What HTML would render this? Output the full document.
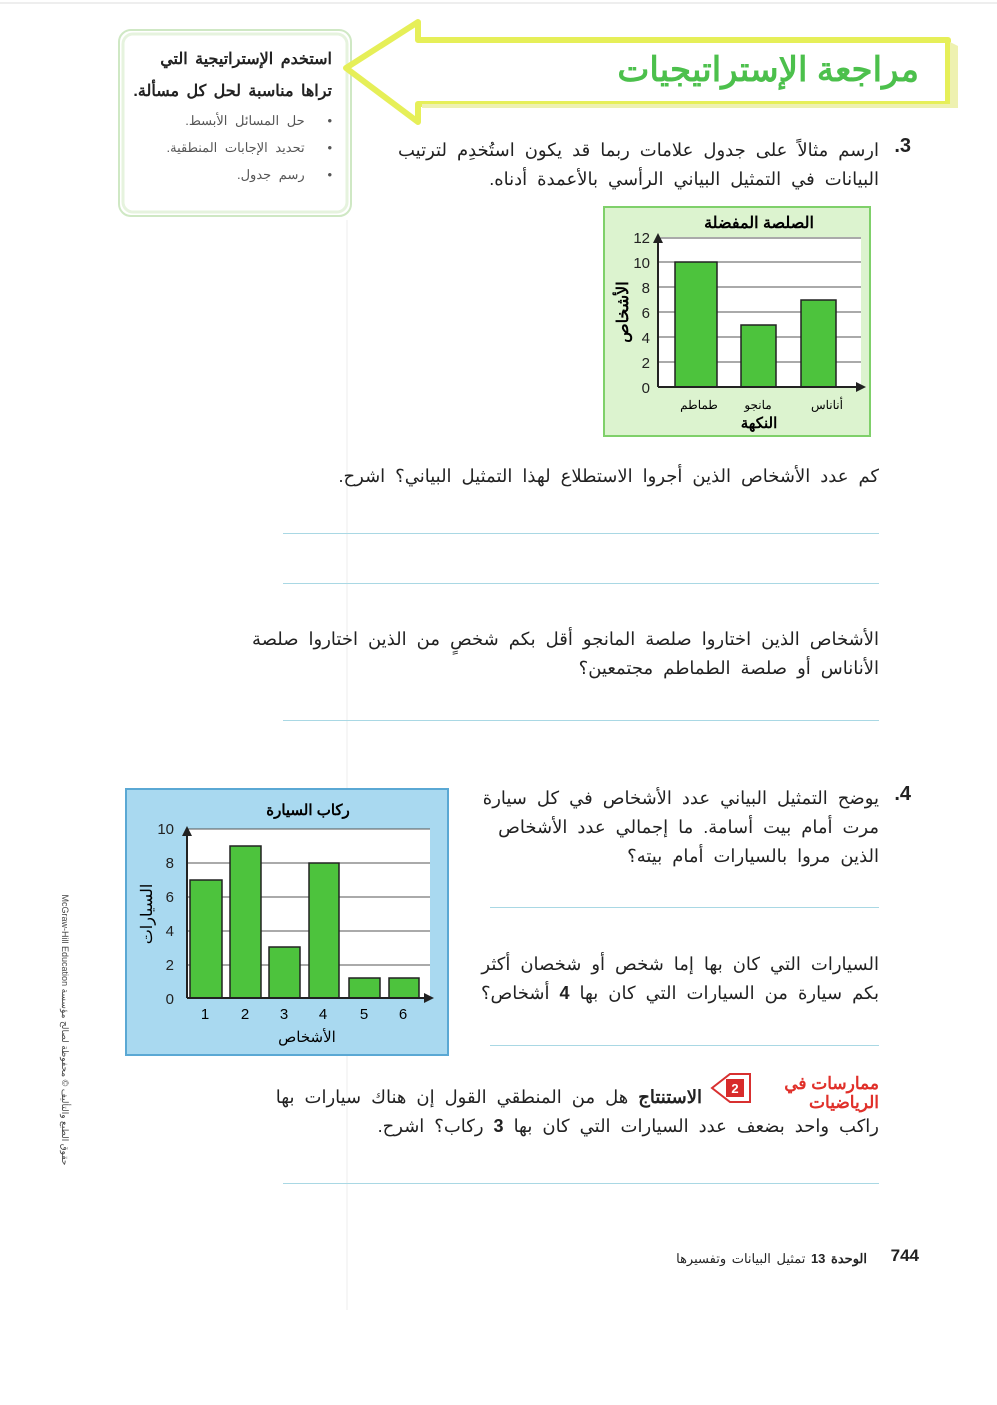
<!DOCTYPE html>
<html><head><meta charset="utf-8"><style>
body{margin:0;width:997px;height:1405px;background:#fff;position:relative;overflow:hidden;font-family:"Liberation Sans","Noto Sans CJK SC",sans-serif;color:#222}
.t{position:absolute;direction:rtl;white-space:nowrap;font-size:18px;line-height:20px;word-spacing:5px}
.ln{position:absolute;height:1px;background:#a9d8e4}
svg{position:absolute;left:0;top:0}
</style></head><body>
<svg width="997" height="1405">
<line x1="0" y1="3" x2="997" y2="3" stroke="#ddd"/>
<line x1="347" y1="220" x2="347" y2="1310" stroke="#eee"/>
<rect x="119" y="30" width="232" height="186" rx="12" fill="#fff" stroke="#cfe8c4" stroke-width="2"/>
<rect x="123" y="34" width="224" height="178" rx="10" fill="none" stroke="#e6f3de" stroke-width="3"/>
<polygon points="346,68 418,22 418,40 948,40 948,104 418,104 418,122" fill="#fff" stroke="#e6ef58" stroke-width="6" stroke-linejoin="round"/>
<polygon points="950,42 958,46 958,108 422,108 422,104 950,104" fill="#eef1b0"/>
<rect x="604" y="207" width="266" height="229" fill="#dcf3cf" stroke="#7fd06a" stroke-width="2"/>
<rect x="658" y="237" width="203" height="150" fill="#fff"/>
<g stroke="#555" stroke-width="1">
<line x1="658" y1="262" x2="861" y2="262"/><line x1="658" y1="287" x2="861" y2="287"/><line x1="658" y1="312" x2="861" y2="312"/><line x1="658" y1="337" x2="861" y2="337"/><line x1="658" y1="362" x2="861" y2="362"/></g>
<line x1="658" y1="238" x2="861" y2="238" stroke="#555"/>
<g fill="#4dc33d" stroke="#222" stroke-width="1.5">
<rect x="675" y="262" width="42" height="125"/><rect x="741" y="325" width="35" height="62"/><rect x="801" y="300" width="35" height="87"/></g>
<line x1="658" y1="387" x2="860" y2="387" stroke="#222" stroke-width="2"/>
<line x1="658" y1="387" x2="658" y2="240" stroke="#222" stroke-width="2"/>
<polygon points="658,233 653,243 663,243" fill="#222"/><polygon points="866,387 856,382 856,392" fill="#222"/>
<g font-size="15" text-anchor="end" fill="#222" font-family="Liberation Sans">
<text x="650" y="243">12</text><text x="650" y="268">10</text><text x="650" y="293">8</text><text x="650" y="318">6</text><text x="650" y="343">4</text><text x="650" y="368">2</text><text x="650" y="393">0</text></g>
<text x="759" y="228" font-size="16" font-weight="bold" text-anchor="middle" direction="rtl">الصلصة المفضلة</text>
<g font-size="12" text-anchor="middle" direction="rtl"><text x="699" y="409">طماطم</text><text x="758" y="409">مانجو</text><text x="827" y="409">أناناس</text></g>
<text x="759" y="428" font-size="15" font-weight="bold" text-anchor="middle" direction="rtl">النكهة</text>
<text transform="translate(628,312) rotate(-90)" font-size="16" font-weight="bold" text-anchor="middle" direction="rtl">الأشخاص</text>
<rect x="126" y="789" width="322" height="266" fill="#a9d9f0" stroke="#5aa8d4" stroke-width="2"/>
<rect x="187" y="829" width="243" height="169" fill="#fff"/>
<g stroke="#555" stroke-width="1">
<line x1="187" y1="829" x2="430" y2="829"/><line x1="187" y1="863" x2="430" y2="863"/><line x1="187" y1="897" x2="430" y2="897"/><line x1="187" y1="931" x2="430" y2="931"/><line x1="187" y1="965" x2="430" y2="965"/></g>
<g fill="#4dc33d" stroke="#222" stroke-width="1.5">
<rect x="190" y="880" width="32" height="118"/><rect x="230" y="846" width="31" height="152"/><rect x="269" y="947" width="31" height="51"/><rect x="309" y="863" width="30" height="135"/><rect x="349" y="978" width="31" height="20"/><rect x="389" y="978" width="30" height="20"/></g>
<line x1="187" y1="998" x2="428" y2="998" stroke="#222" stroke-width="2"/>
<line x1="187" y1="998" x2="187" y2="832" stroke="#222" stroke-width="2"/>
<polygon points="187,826 182,836 192,836" fill="#222"/><polygon points="434,998 424,993 424,1003" fill="#222"/>
<g font-size="15" text-anchor="end" fill="#222"><text x="174" y="834">10</text><text x="174" y="868">8</text><text x="174" y="902">6</text><text x="174" y="936">4</text><text x="174" y="970">2</text><text x="174" y="1004">0</text></g>
<g font-size="15" text-anchor="middle"><text x="205" y="1019">1</text><text x="245" y="1019">2</text><text x="284" y="1019">3</text><text x="323" y="1019">4</text><text x="364" y="1019">5</text><text x="403" y="1019">6</text></g>
<text x="308" y="815" font-size="15" font-weight="bold" text-anchor="middle" direction="rtl">ركاب السيارة</text>
<text x="307" y="1042" font-size="15" text-anchor="middle" direction="rtl">الأشخاص</text>
<text transform="translate(152,914) rotate(-90)" font-size="16" text-anchor="middle" direction="rtl">السيارات</text>
<polygon points="712,1088 730,1074 750,1074 750,1102 730,1102" fill="#fff" stroke="#d83030" stroke-width="2"/>
<rect x="726" y="1079" width="18" height="18" fill="#d82b2b"/>
<text x="735" y="1093" font-size="13" font-weight="bold" fill="#fff" text-anchor="middle">2</text>
<text transform="translate(62,1030) rotate(90)" font-size="9" fill="#444" text-anchor="middle">McGraw-Hill Education حقوق الطبع والتأليف © محفوظة لصالح مؤسسة</text>
</svg>
<div class="t" style="right:665px;top:44px;font-size:16px;font-weight:bold;line-height:32px;text-align:right;word-spacing:3px">استخدم الإستراتيجية التي<br>تراها مناسبة لحل كل مسألة.</div>
<div class="t" style="right:665px;top:107px;font-size:13px;line-height:27px;color:#555;word-spacing:4px">•&nbsp;&nbsp; حل المسائل الأبسط.<br>•&nbsp;&nbsp; تحديد الإجابات المنطقية.<br>•&nbsp;&nbsp; رسم جدول.</div>
<div class="t" style="right:78px;top:48px;font-size:34px;line-height:44px;font-weight:bold;color:#4cc04c;word-spacing:0">مراجعة الإستراتيجيات</div>
<div class="t" style="right:86px;top:136px;font-size:20px;font-weight:bold">3.</div>
<div class="t" style="right:118px;top:136px;line-height:29px">ارسم مثالاً على جدول علامات ربما قد يكون استُخدِم لترتيب<br>البيانات في التمثيل البياني الرأسي بالأعمدة أدناه.</div>
<div class="t" style="right:118px;top:466px">كم عدد الأشخاص الذين أجروا الاستطلاع لهذا التمثيل البياني؟ اشرح.</div>
<div class="ln" style="left:283px;width:596px;top:533px"></div>
<div class="ln" style="left:283px;width:596px;top:583px"></div>
<div class="t" style="right:118px;top:625px;line-height:29px">الأشخاص الذين اختاروا صلصة المانجو أقل بكم شخصٍ من الذين اختاروا صلصة<br>الأناناس أو صلصة الطماطم مجتمعين؟</div>
<div class="ln" style="left:283px;width:596px;top:720px"></div>
<div class="t" style="right:86px;top:784px;font-size:20px;font-weight:bold">4.</div>
<div class="t" style="right:118px;top:784px;line-height:29px">يوضح التمثيل البياني عدد الأشخاص في كل سيارة<br>مرت أمام بيت أسامة. ما إجمالي عدد الأشخاص<br>الذين مروا بالسيارات أمام بيته؟</div>
<div class="ln" style="left:490px;width:389px;top:907px"></div>
<div class="t" style="right:118px;top:950px;line-height:29px">السيارات التي كان بها إما شخص أو شخصان أكثر<br>بكم سيارة من السيارات التي كان بها <b>4</b> أشخاص؟</div>
<div class="ln" style="left:490px;width:389px;top:1045px"></div>
<div class="t" style="right:118px;top:1074px;font-size:17px;font-weight:bold;color:#e0302a;line-height:19px;text-align:right;word-spacing:0">ممارسات في<br>الرياضيات</div>
<div class="t" style="right:295px;top:1087px"><b>الاستنتاج</b> هل من المنطقي القول إن هناك سيارات بها</div>
<div class="t" style="right:118px;top:1116px">راكب واحد بضعف عدد السيارات التي كان بها <b>3</b> ركاب؟ اشرح.</div>
<div class="ln" style="left:283px;width:596px;top:1183px"></div>
<div class="t" style="right:78px;top:1246px;font-size:17px;font-weight:bold">744</div>
<div class="t" style="right:130px;top:1249px;font-size:13px;word-spacing:2px"><b>الوحدة 13</b> تمثيل البيانات وتفسيرها</div>
</body></html>
